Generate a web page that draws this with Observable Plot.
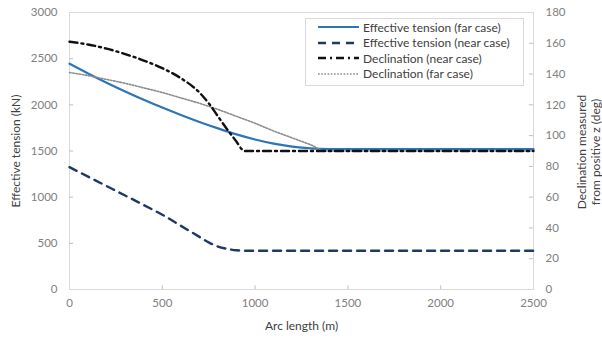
<!DOCTYPE html>
<html>
<head>
<meta charset="utf-8">
<script src="https://cdn.jsdelivr.net/npm/d3@7"></script>
<script src="https://cdn.jsdelivr.net/npm/@observablehq/plot@0.6"></script>
<style>
  html, body { margin: 0; padding: 0; background: #fff; }
  #wrap { position: relative; width: 602px; height: 341px; font-family: Lato, "Open Sans", sans-serif; }
  #legend { position: absolute; left: 305px; top: 18px; width: 219px; height: 68px; border: 1px solid #d9d9d9; background: #fff; box-sizing: border-box; }
  .row { position: absolute; left: 0; height: 16px; display: flex; align-items: center; font-size: 12px; color: #404040; white-space: nowrap; }
  .row svg { margin-left: 12px; margin-right: 4px; }
</style>
</head>
<body>
<div id="wrap"></div>
<script>
// ---- data ----
const farTensionArc = [0,100,200,300,400,500,600,700,800,900,1000,1100,1200,1300,1400,1500,2000,2500];
const farTension    = [2445,2340,2240,2145,2055,1970,1890,1815,1745,1680,1625,1580,1548,1528,1521,1520,1520,1520];

const nearTensionArc = [0,100,200,300,400,500,600,700,750,800,850,900,950,1500,2000,2500];
const nearTension    = [1325,1222,1120,1018,915,810,690,570,510,465,440,425,420,420,420,420];

const nearDeclArc = [0,100,200,300,400,500,600,700,750,800,850,900,930,945,1500,2000,2500];
const nearDecl    = [161,159.2,156.5,153,148.8,143.8,137.3,128,121,112.5,104,96,91,90,90,90,90];

const farDeclArc = [0,100,200,300,400,500,600,700,800,900,1000,1100,1200,1300,1380,2000,2500];
const farDecl    = [141,139,136.5,134,131,128,124.5,121,117,112.5,108,103,98.5,94,90,90,90];

const seriesNames = ["Effective tension (far case)","Effective tension (near case)","Declination (near case)","Declination (far case)"];
const xTicks = [0,500,1000,1500,2000,2500];
const leftTicks = [0,500,1000,1500,2000,2500,3000];
const rightTicks = [0,20,40,60,80,100,120,140,160,180];

const tensionMax = 3000, declMax = 180;
const k = tensionMax / declMax; // secondary axis mapping

const zip = (xs, ys) => xs.map((x, i) => ({x, y: ys[i]}));
const farT = zip(farTensionArc, farTension);
const nearT = zip(nearTensionArc, nearTension);
const nearD = zip(nearDeclArc, nearDecl).map(d => ({x: d.x, y: d.y * k}));
const farD = zip(farDeclArc, farDecl).map(d => ({x: d.x, y: d.y * k}));

const styles = [
  {stroke: "#2e75b6", strokeWidth: 2.2, dash: null},
  {stroke: "#1f3864", strokeWidth: 2.4, dash: "8,6"},
  {stroke: "#111111", strokeWidth: 2.4, dash: "8,4,2,4"},
  {stroke: "#8c8c8c", strokeWidth: 1.6, dash: "1.6,1.6"}
];

const tickGray = "#bfbfbf";
const labelColor = "#808080";

const chart = Plot.plot({
  width: 602,
  height: 341,
  marginLeft: 69,
  marginRight: 69,
  marginTop: 12,
  marginBottom: 52,
  style: {fontFamily: "Lato, 'Open Sans', sans-serif", fontSize: "11.5px", color: labelColor, background: "#fff"},
  x: {domain: [0, 2500]},
  y: {domain: [0, tensionMax]},
  marks: [
    Plot.frame({stroke: "#d9d9d9"}),
    // inward ticks
    Plot.ruleY(leftTicks.slice(1, -1), {x1: 0, x2: 22, stroke: tickGray}),
    Plot.ruleY(rightTicks.slice(1, -1).map(d => d * k), {x1: 2478, x2: 2500, stroke: tickGray}),
    Plot.ruleX(xTicks.slice(1, -1), {y1: 0, y2: 40, stroke: tickGray}),
    Plot.axisX({ticks: xTicks, tickSize: 0, tickPadding: 9, tickFormat: d => String(d),
      label: "Arc length (m)", labelAnchor: "center", labelOffset: 40, labelArrow: false}),
    Plot.axisY({ticks: leftTicks, tickSize: 0, tickPadding: 12, tickFormat: d => String(d),
      label: "Effective tension (kN)", labelAnchor: "center", labelOffset: 58, labelArrow: false}),
    Plot.axisY({anchor: "right", ticks: rightTicks.map(d => d * k), tickSize: 0, tickPadding: 12,
      tickFormat: d => String(Math.round(d / k)), label: null}),
    Plot.line(farT, {x: "x", y: "y", stroke: styles[0].stroke, strokeWidth: styles[0].strokeWidth, curve: "monotone-x"}),
    Plot.line(nearT, {x: "x", y: "y", stroke: styles[1].stroke, strokeWidth: styles[1].strokeWidth, strokeDasharray: styles[1].dash, curve: "monotone-x"}),
    Plot.line(farD, {x: "x", y: "y", stroke: styles[3].stroke, strokeWidth: styles[3].strokeWidth, strokeDasharray: styles[3].dash, curve: "monotone-x"}),
    Plot.line(nearD, {x: "x", y: "y", stroke: styles[2].stroke, strokeWidth: styles[2].strokeWidth, strokeDasharray: styles[2].dash, curve: "monotone-x"})
  ]
});

// colour the axis titles darker
d3.select(chart).selectAll("[aria-label$='axis label'] text").attr("fill", "#404040").style("font-size", "12px");

const wrap = document.getElementById("wrap");
wrap.appendChild(chart);

// right axis title (two lines, rotated)
const svg = d3.select(chart);
const rt = svg.append("text")
  .attr("transform", "translate(586,152) rotate(-90)")
  .attr("text-anchor", "middle")
  .attr("fill", "#404040")
  .style("font-size", "12px");
rt.append("tspan").attr("x", 0).attr("dy", 0).text("Declination measured");
rt.append("tspan").attr("x", 0).attr("dy", "1.15em").text("from positive z (deg)");

// legend
const legend = document.createElement("div");
legend.id = "legend";
const rowsTop = [0, 15.5, 31, 46.5];
seriesNames.forEach((name, i) => {
  const row = document.createElement("div");
  row.className = "row";
  row.style.top = rowsTop[i] + "px";
  const s = styles[i];
  row.innerHTML = `<svg width="41" height="8"><line x1="0" y1="4" x2="41" y2="4" stroke="${s.stroke}" stroke-width="${s.strokeWidth}" ${s.dash ? `stroke-dasharray="${s.dash}"` : ""}/></svg><span></span>`;
  row.querySelector("span").textContent = name;
  legend.appendChild(row);
});
wrap.appendChild(legend);
</script>
</body>
</html>
